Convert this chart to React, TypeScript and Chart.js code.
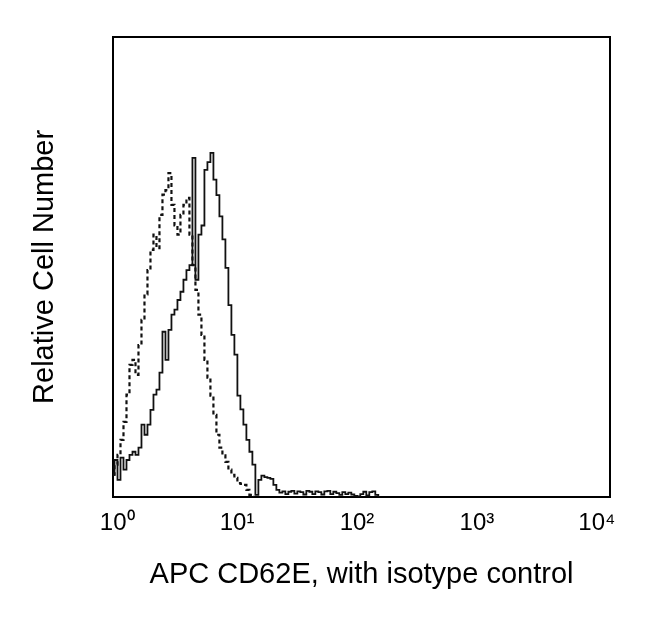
import React, { useEffect, useRef } from 'react';
import { Chart, registerables } from 'chart.js';

Chart.register(...registerables);

// Channel positions on the x axis, in log10(fluorescence intensity)
const channels = [
  -0.035, -0.01, 0.015, 0.04, 0.065, 0.09, 0.115, 0.14, 0.165, 0.19,
  0.215, 0.24, 0.265, 0.29, 0.315, 0.34, 0.365, 0.39, 0.415, 0.44,
  0.465, 0.49, 0.515, 0.54, 0.565, 0.59, 0.615, 0.64, 0.665, 0.69,
  0.715, 0.74, 0.765, 0.79, 0.815, 0.84, 0.865, 0.89, 0.915, 0.94,
  0.965, 0.99, 1.015, 1.04, 1.065, 1.09, 1.115, 1.14, 1.165, 1.19,
  1.215, 1.24, 1.265, 1.29, 1.315, 1.34, 1.365, 1.39, 1.415, 1.44,
  1.465, 1.49, 1.515, 1.54, 1.565, 1.59, 1.615, 1.64, 1.665, 1.69,
  1.715, 1.74, 1.765, 1.79, 1.815, 1.84, 1.865, 1.89, 1.915, 1.94,
  1.965, 1.99, 2.015, 2.04, 2.065, 2.09, 2.115, 2.14, 2.165, 2.19,
];

// APC CD62E stained cells (solid line), relative cell number
const cd62eCounts = [
  4.8, 8, 3.7, 8.5, 5.9, 8, 9.1, 9.8, 9.1, 10.7,
  15.7, 13.5, 15.7, 18.9, 22.2, 23.3, 27, 35.9, 29.8, 36.3,
  39.6, 40.7, 42.8, 44.6, 47.2, 49.3, 50.4, 73.7, 47.2, 57,
  59, 71.1, 72.8, 74.8, 69, 65.6, 61, 56, 49.8, 41.7,
  35.2, 30.9, 22, 19, 15.7, 12.4, 9.8, 7, 0.4, 3.7,
  4.6, 4.3, 4.1, 3.9, 2.6, 1.5, 0.9, 1.2, 0.6, 1.1,
  1.3, 0.7, 1.2, 1.0, 0.5, 1.3, 1.1, 0.6, 1.2, 1.0,
  0.5, 1.2, 1.3, 0.6, 1.1, 0.8, 0.4, 1.0, 0.6, 0.9,
  0.5, 0.2, 0.1, 0.6, 1.1, 0.3, 1.0, 1.2, 0.4, 0,
];

// Isotype control (dashed line), relative cell number
const isotypeCounts = [
  4.8, 7, 9.1, 12.4, 16.3, 22.2, 28.7, 29.8, 26.5, 33,
  38.5, 44, 49.3, 53.7, 57, 54.1, 61.3, 65.7, 66.7, 70.4,
  63.5, 59, 57, 61.3, 63.5, 65, 57, 50.4, 45, 39.6,
  35.2, 29.8, 25.9, 22, 17.8, 13.5, 10.7, 9, 7.6, 5.9,
  4.8, 4.1, 3, 2.8, 2.6, 1.5, 0.4, 0,
];

const xTickValues = [0, 1, 2, 3, 4];
const xTickLabels = ['10\u2070', '10\u00B9', '10\u00B2', '10\u00B3', '10\u2074'];

const FONT = "'Liberation Sans', Arial, Helvetica, sans-serif";

export default function App() {
  const ref = useRef<HTMLCanvasElement>(null);

  useEffect(() => {
    document.body.style.margin = '0';
    const canvas = ref.current;
    if (!canvas) return;
    const borderOpts = { display: true, color: '#000', width: 2 };
    const chart = new Chart(canvas, {
      type: 'line',
      data: {
        datasets: [
          {
            label: 'Isotype control',
            data: isotypeCounts.map((y, i) => ({ x: channels[i], y })),
            borderColor: '#111',
            borderWidth: 2.2,
            borderDash: [4, 3],
            pointRadius: 0,
            stepped: 'middle',
            fill: false,
          },
          {
            label: 'APC CD62E',
            data: cd62eCounts.map((y, i) => ({ x: channels[i], y })),
            borderColor: '#111',
            borderWidth: 1.8,
            pointRadius: 0,
            stepped: 'middle',
            fill: false,
          },
        ],
      },
      options: {
        responsive: false,
        animation: false,
        layout: { padding: { left: 0, right: 40, top: 37, bottom: 29.6 } },
        plugins: { legend: { display: false }, tooltip: { enabled: false } },
        scales: {
          x: {
            type: 'linear',
            position: 'bottom',
            min: -0.035,
            max: 4.11,
            afterBuildTicks: (scale: any) => {
              scale.ticks = xTickValues.map((v) => ({ value: v }));
            },
            ticks: {
              autoSkip: false,
              maxRotation: 0,
              padding: 12,
              color: '#000',
              font: { family: FONT, size: 24 },
              callback: (v: any) => {
                const i = xTickValues.indexOf(Number(v));
                return i >= 0 ? xTickLabels[i] : '';
              },
            },
            grid: { display: false, drawTicks: false },
            border: borderOpts,
            title: {
              display: true,
              text: 'APC CD62E, with isotype control',
              color: '#000',
              font: { family: FONT, size: 29 },
              padding: { top: 8, bottom: 0 },
            },
          },
          y: {
            type: 'linear',
            position: 'left',
            min: 0,
            max: 100,
            ticks: { display: false },
            grid: { display: false, drawTicks: false },
            border: borderOpts,
            title: {
              display: true,
              text: 'Relative Cell Number',
              color: '#000',
              font: { family: FONT, size: 29 },
              padding: { top: 27.6, bottom: 50.6 },
            },
          },
          xTop: {
            type: 'linear',
            position: 'top',
            display: true,
            ticks: { display: false },
            grid: { display: false, drawTicks: false },
            border: borderOpts,
          },
          yRight: {
            type: 'linear',
            position: 'right',
            display: true,
            ticks: { display: false },
            grid: { display: false, drawTicks: false },
            border: borderOpts,
          },
        },
      },
    } as any);
    return () => chart.destroy();
  }, []);

  return <canvas ref={ref} width={650} height={622} style={{ display: 'block' }} />;
}
